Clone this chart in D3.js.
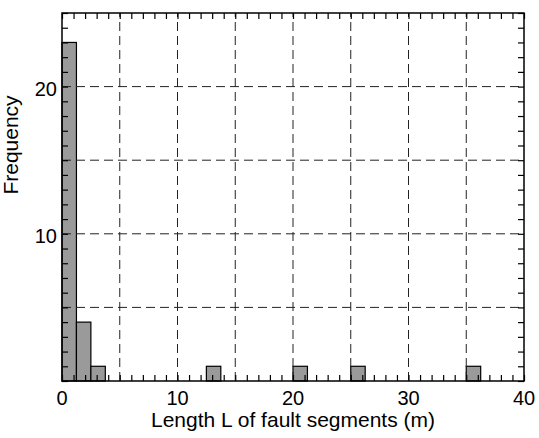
<!DOCTYPE html>
<html>
<head>
<meta charset="utf-8">
<script src="https://cdn.jsdelivr.net/npm/d3@7"></script>
<style>
  html, body { margin: 0; padding: 0; background: #fff; }
  svg { display: block; }
  text { font-family: "Liberation Sans", Arial, Helvetica, sans-serif; fill: #000; }
</style>
</head>
<body>
<svg id="chart" width="539" height="438"></svg>
<script>
// ---- data ----
const binStarts = [0, 1.25, 2.5, 12.5, 20, 25, 35];
const counts    = [23, 4, 1, 1, 1, 1, 1];
const binWidth  = 1.25;
const xTickLabels = [0, 10, 20, 30, 40];
const yTickLabels = [10, 20];
const xGrid = [5, 10, 15, 20, 25, 30, 35];
const yGrid = [5, 10, 15, 20];
const xLabel = "Length L of fault segments (m)";
const yLabel = "Frequency";

// ---- layout ----
const W = 539, H = 438;
const m = { left: 62, right: 15, top: 13, bottom: 57 };
const svg = d3.select("#chart");
const x = d3.scaleLinear().domain([0, 40]).range([m.left, W - m.right]);
const y = d3.scaleLinear().domain([0, 25]).range([H - m.bottom, m.top]);

const bins = binStarts.map((s, i) => ({ x0: s, x1: s + binWidth, n: counts[i] }));

// bars
svg.append("g").selectAll("rect").data(bins).join("rect")
  .attr("x", d => x(d.x0))
  .attr("y", d => y(d.n))
  .attr("width", d => x(d.x1) - x(d.x0))
  .attr("height", d => y(0) - y(d.n))
  .attr("fill", "#9a9a9a")
  .attr("stroke", "#000")
  .attr("stroke-width", 1.2);

// grid
const g = svg.append("g").attr("stroke", "#222").attr("stroke-width", 1).attr("stroke-dasharray", "9,5");
g.selectAll("line.v").data(xGrid).join("line").attr("class", "v")
  .attr("x1", d => x(d)).attr("x2", d => x(d))
  .attr("y1", y(0)).attr("y2", y(25));
g.selectAll("line.h").data(yGrid).join("line").attr("class", "h")
  .attr("x1", x(0)).attr("x2", x(40))
  .attr("y1", d => y(d)).attr("y2", d => y(d));

// axes with inward minor ticks
const xt = d3.range(0, 41, 1);
const yt = d3.range(0, 26, 1);
const fmtNone = () => "";

svg.append("g").attr("transform", `translate(0,${y(0)})`)
  .call(d3.axisTop(x).tickValues(xt).tickSize(6).tickFormat(fmtNone).tickSizeOuter(0))
  .call(s => s.select(".domain").remove());
svg.append("g").attr("transform", `translate(0,${y(25)})`)
  .call(d3.axisBottom(x).tickValues(xt).tickSize(6).tickFormat(fmtNone).tickSizeOuter(0))
  .call(s => s.select(".domain").remove());
svg.append("g").attr("transform", `translate(${x(0)},0)`)
  .call(d3.axisRight(y).tickValues(yt).tickSize(6).tickFormat(fmtNone).tickSizeOuter(0))
  .call(s => s.select(".domain").remove());
svg.append("g").attr("transform", `translate(${x(40)},0)`)
  .call(d3.axisLeft(y).tickValues(yt).tickSize(6).tickFormat(fmtNone).tickSizeOuter(0))
  .call(s => s.select(".domain").remove());
svg.selectAll(".tick line").attr("stroke", "#000").attr("stroke-width", 1.2);

// tick labels
svg.append("g").selectAll("text").data(xTickLabels).join("text")
  .attr("x", d => x(d)).attr("y", y(0) + 24)
  .attr("text-anchor", "middle").attr("font-size", 20).text(d => d);
svg.append("g").selectAll("text").data(yTickLabels).join("text")
  .attr("x", x(0) - 5).attr("y", d => y(d) + 9)
  .attr("text-anchor", "end").attr("font-size", 20).text(d => d);

// frame
svg.append("rect")
  .attr("x", x(0)).attr("y", y(25))
  .attr("width", x(40) - x(0)).attr("height", y(0) - y(25))
  .attr("fill", "none").attr("stroke", "#000").attr("stroke-width", 1.5);

// axis titles
svg.append("text").attr("x", (x(0) + x(40)) / 2).attr("y", 427)
  .attr("text-anchor", "middle").attr("font-size", 21).text(xLabel);
svg.append("text").attr("transform", `translate(18,145) rotate(-90)`)
  .attr("text-anchor", "middle").attr("font-size", 21).text(yLabel);
</script>
</body>
</html>
